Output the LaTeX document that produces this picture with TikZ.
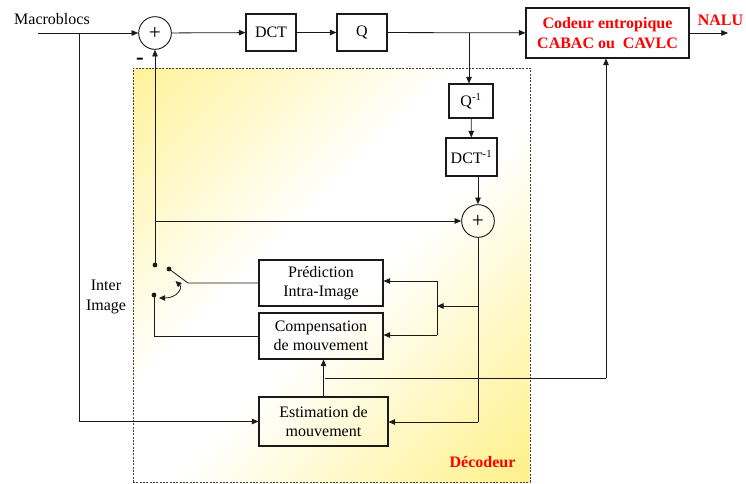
\documentclass[tikz,border=0pt]{standalone}
\usepackage{fontspec}
\setmainfont{Liberation Serif}
\usetikzlibrary{arrows.meta}
\definecolor{ylwA}{HTML}{FFF29C}
\definecolor{ylwB}{HTML}{FFF08A}
\definecolor{lnc}{HTML}{1A1A1A}
\pgfdeclareverticalshading{decshade}{100bp}{color(0bp)=(ylwB); color(15bp)=(ylwB); color(46bp)=(white); color(57bp)=(white); color(85bp)=(ylwA); color(100bp)=(ylwA)}
\tikzset{
  txt/.style={font=\fontsize{12}{14.5}\selectfont, inner sep=0pt, align=center},
  blk/.style={txt, draw=lnc, line width=0.8pt, rectangle},
  sumnode/.style={circle, draw=lnc, line width=0.7pt, minimum size=24.5pt, inner sep=0pt, font=\fontsize{16}{16}\selectfont},
  ln/.style={draw=lnc, line width=0.6pt},
  arr/.style={ln, -{Triangle[length=5pt,width=4.2pt]}},
  dbl/.style={ln, {Triangle[length=4.5pt,width=4pt]}-{Triangle[length=4.5pt,width=4pt]}},
  redt/.style={txt, text=red, font=\fontsize{12}{14.5}\selectfont\bfseries},
  decbox/.style={draw=black!75, line width=0.6pt, dash pattern=on 1.5pt off 1pt, shading=decshade, shading angle=45, inner sep=0pt}
}
\begin{document}
\begin{tikzpicture}[x=0.75pt,y=-0.75pt]
\useasboundingbox (0,0) rectangle (746,483);
% decoder frame
\node[decbox, minimum width=297.75pt, minimum height=310.5pt] (dec) at (331.5,275) {};
\node[redt] (declbl) at (482.5,462) {Décodeur};
% top chain
\node[txt] (mb) at (52,19) {Macroblocs};
\node[sumnode] (c1) at (155,33) {+};
\node[txt, font=\fontsize{17}{17}\selectfont\bfseries] (minus) at (140,61) {-};
\node[blk, minimum width=37.5pt, minimum height=27.75pt] (dct) at (271,32.5) {DCT};
\node[blk, minimum width=37.5pt, minimum height=27.75pt] (q) at (362,32.5) {Q};
\node[blk, minimum width=122.25pt, minimum height=37.5pt, text=red, font=\fontsize{12}{14.5}\selectfont\bfseries] (cod) at (607.5,33) {Codeur entropique\\CABAC ou\ \ CAVLC};
\node[redt] (nalu) at (720.5,20) {NALU};
% decoder blocks
\node[blk, minimum width=33pt, minimum height=25.5pt] (qi) at (471,101) {Q\textsuperscript{-1}};
\node[blk, minimum width=38.25pt, minimum height=28.5pt] (dcti) at (471.5,157) {DCT\textsuperscript{-1}};
\node[sumnode] (c2) at (478,221) {+};
\node[blk, minimum width=93pt, minimum height=34.5pt] (pred) at (321,283) {Prédiction\\Intra-Image};
\node[blk, minimum width=93pt, minimum height=34.5pt] (comp) at (321,336) {Compensation\\de mouvement};
\node[blk, minimum width=96.75pt, minimum height=36.75pt] (est) at (323.5,421.5) {Estimation de\\mouvement};
\node[txt, font=\fontsize{12}{15}\selectfont] (inter) at (106,297) {Inter\\Image};
% coordinates
\coordinate (mbstart) at (38,33);
\coordinate (mbsplit) at (79,33);
\coordinate (qsplit) at (469,33);
\coordinate (naluend) at (728,33);
\coordinate (swA) at (155,265);
\coordinate (swB) at (169,269);
\coordinate (swC) at (154,295);
\coordinate (lever) at (188,283);
\coordinate (j1) at (155,221);
\coordinate (c2down) at (478,422);
\coordinate (j2) at (478,306);
\coordinate (barM) at (437,306);
\coordinate (barT) at (437,281);
\coordinate (barB) at (437,335);
\coordinate (mvA) at (325,378);
\coordinate (mvB) at (606,378);
\coordinate (cuA) at (175.5,281);
\coordinate (cuB) at (159,298);
% connectors
\draw[arr] (mbstart) -- (c1);
\draw[arr] (c1) -- (dct);
\draw[arr] (dct) -- (q);
\draw[arr] (q) -- (cod);
\draw[arr] (cod) -- (naluend);
\draw[arr] (qsplit) -- (qsplit |- qi.north);
\draw[arr] (qi) -- (dcti);
\draw[arr] (c2 |- dcti.south) -- (c2);
\draw[arr] (swA) -- (c1);
\draw[arr] (j1) -- (c2);
\draw[ln] (c2) -- (c2down);
\draw[arr] (c2down) -- (c2down -| est.east);
\draw[arr] (j2) -- (barM);
\draw[ln] (barT) -- (barB);
\draw[arr] (barT) -- (barT -| pred.east);
\draw[arr] (barB) -- (barB -| comp.east);
\draw[arr] (est.north) -- (est.north |- comp.south);
\draw[ln] (mvA) -- (mvB);
\draw[arr] (mvB) -- (mvB |- cod.south);
\draw[arr] (mbsplit) |- (est.west);
\draw[ln] (swB) -- (lever) -- (lever -| pred.west);
\draw[ln] (swC) |- (comp.west);
\draw[dbl] (cuA) .. controls (183,288) and (177,298) .. (cuB);
\fill[lnc] (swA) circle (1.8pt);
\fill[lnc] (swB) circle (1.8pt);
\fill[lnc] (swC) circle (1.8pt);
\end{tikzpicture}
\end{document}
